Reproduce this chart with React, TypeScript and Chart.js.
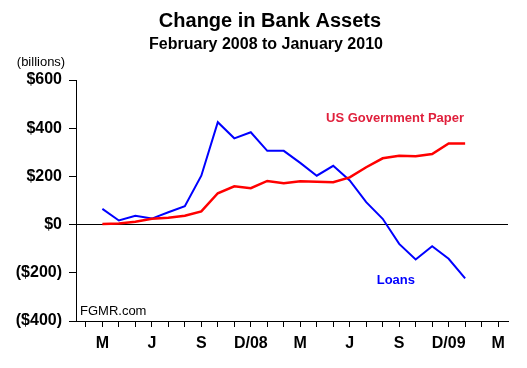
import React, { useEffect, useRef } from "react";
import { Chart, registerables } from "chart.js";

Chart.register(...registerables);

// Month index: 0 = Feb 2008 ... 25 = Mar 2010. Data runs Mar 2008 (1) .. Jan 2010 (23)
const monthIndex = [1, 2, 3, 4, 5, 6, 7, 8, 9, 10, 11, 12, 13, 14, 15, 16, 17, 18, 19, 20, 21, 22, 23];
const govPaper = [3, 5, 12, 24, 28, 37, 55, 130, 159, 151, 181, 172, 180, 178, 176, 196, 238, 275, 286, 284, 293, 337, 337];
const loans = [65, 17, 37, 25, 51, 76, 203, 425, 358, 383, 306, 306, 256, 203, 244, 183, 93, 24, -80, -145, -90, -142, -223];

const xTickPositions = [1, 4, 7, 10, 13, 16, 19, 22, 25];
const xTickLabels = ["M", "J", "S", "D/08", "M", "J", "S", "D/09", "M"];
const yTicks = [-400, -200, 0, 200, 400, 600];

const FONT = "'Liberation Sans', Arial, Helvetica, sans-serif";

function fmtMoney(v: number): string {
  if (v < 0) return `($${-v})`;
  return `$${v}`;
}

const textPlugin = {
  id: "texts",
  afterDraw(chart: any) {
    const ctx = chart.ctx;
    const xs = chart.scales.x;
    const ys = chart.scales.y;
    ctx.save();
    ctx.fillStyle = "#000";
    ctx.textAlign = "center";
    ctx.textBaseline = "middle";
    ctx.font = `bold 20px ${FONT}`;
    ctx.fillText("Change in Bank Assets", 270, 21);
    ctx.font = `bold 16px ${FONT}`;
    ctx.fillText("February 2008 to January 2010", 266, 45);
    ctx.font = `13px ${FONT}`;
    ctx.fillText("(billions)", 41, 62);
    ctx.textAlign = "left";
    ctx.fillText("FGMR.com", 80, 311);
    ctx.textAlign = "center";
    ctx.font = `bold 13px ${FONT}`;
    ctx.fillStyle = "#e0203c";
    ctx.fillText("US Government Paper", xs.getPixelForValue(18.75), ys.getPixelForValue(440));
    ctx.fillStyle = "#0000ff";
    ctx.fillText("Loans", xs.getPixelForValue(18.8), ys.getPixelForValue(-230));
    ctx.restore();
  },
};

export default function App() {
  const ref = useRef<HTMLCanvasElement | null>(null);
  useEffect(() => {
    if (!ref.current) return;
    const tickFont = { family: FONT, size: 16, weight: "bold" as const };
    const chart = new Chart(ref.current, {
      type: "line",
      data: {
        datasets: [
          {
            data: monthIndex.map((x, i) => ({ x, y: govPaper[i] })),
            borderColor: "#ff0000",
            borderWidth: 2.5,
            pointRadius: 0,
            tension: 0,
          },
          {
            data: monthIndex.map((x, i) => ({ x, y: loans[i] })),
            borderColor: "#0000ff",
            borderWidth: 2,
            pointRadius: 0,
            tension: 0,
          },
        ],
      },
      options: {
        responsive: false,
        animation: false,
        devicePixelRatio: 1,
        layout: { padding: { top: 80, right: 19, left: 0, bottom: 0 } },
        plugins: {
          legend: { display: false },
          tooltip: { enabled: false },
          title: { display: false },
        },
        scales: {
          x: {
            type: "linear",
            min: -0.6,
            max: 25.6,
            afterBuildTicks: (s: any) => {
              const t = [];
              for (let i = 0; i <= 25; i++) t.push({ value: i });
              s.ticks = t;
            },
            afterFit: (s: any) => {
              s.height = 47;
            },
            ticks: {
              autoSkip: false,
              maxRotation: 0,
              color: "#000",
              font: tickFont,
              padding: 7,
              callback: (v: any) => {
                const k = xTickPositions.indexOf(Number(v));
                return k >= 0 ? xTickLabels[k] : "";
              },
            },
            grid: { drawOnChartArea: false, tickLength: 6, tickColor: "#000" },
            border: { color: "#000", width: 1 },
          },
          y: {
            min: -400,
            max: 600,
            afterBuildTicks: (s: any) => {
              s.ticks = yTicks.map((v) => ({ value: v }));
            },
            afterFit: (s: any) => {
              s.width = 76;
            },
            ticks: {
              color: "#000",
              font: tickFont,
              padding: 7,
              callback: (v: any) => fmtMoney(Number(v)),
            },
            grid: {
              color: (c: any) => (c.tick && c.tick.value === 0 ? "#000" : "rgba(0,0,0,0)"),
              tickColor: "#000",
              tickLength: 7,
            },
            border: { color: "#000", width: 1 },
          },
        },
      },
      plugins: [textPlugin],
    });
    return () => chart.destroy();
  }, []);
  return (
    <div style={{ position: "absolute", left: 0, top: 0, width: 527, height: 368, background: "#fff" }}>
      <canvas ref={ref} width={527} height={368} style={{ display: "block" }} />
    </div>
  );
}
